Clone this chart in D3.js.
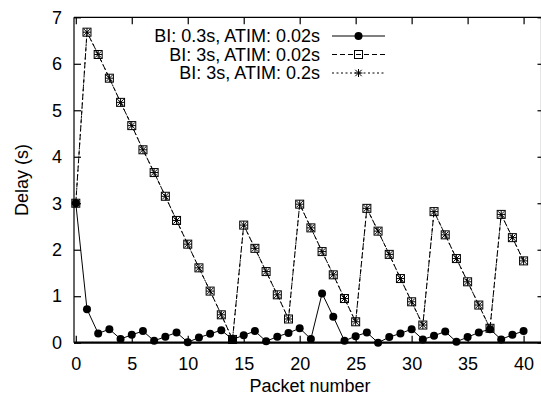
<!DOCTYPE html>
<html>
<head>
<meta charset="utf-8">
<script src="https://cdn.jsdelivr.net/npm/d3@7"></script>
<style>
  html, body { margin: 0; padding: 0; background: #fff; }
  svg text { font-family: "Liberation Sans", Arial, Helvetica, sans-serif; fill: #000; }
</style>
</head>
<body>
<svg id="chart" width="541" height="398"></svg>
<script>
// ---- data ----
const packets = d3.range(0, 41);
const seriesNames = ["BI: 0.3s, ATIM: 0.02s", "BI: 3s, ATIM: 0.02s", "BI: 3s, ATIM: 0.2s"];
const bi03_atim002 = [3.0, 0.72, 0.20, 0.29, 0.08, 0.17, 0.25, 0.04, 0.13, 0.22,
  0.01, 0.11, 0.19, 0.27, 0.07, 0.16, 0.25, 0.03, 0.13, 0.21,
  0.31, 0.08, 1.06, 0.56, 0.04, 0.14, 0.22, 0.0, 0.12, 0.20,
  0.29, 0.07, 0.15, 0.24, 0.02, 0.12, 0.22, 0.29, 0.07, 0.17, 0.25];
const bi3_atim002 = [3.0, 6.68, 6.20, 5.69, 5.17, 4.67, 4.15, 3.66, 3.15, 2.63,
  2.12, 1.61, 1.11, 0.60, 0.07, 2.53, 2.03, 1.53, 1.03, 0.51,
  2.98, 2.47, 1.96, 1.46, 0.95, 0.45, 2.89, 2.40, 1.90, 1.38,
  0.88, 0.38, 2.82, 2.32, 1.81, 1.31, 0.81, 0.31, 2.76, 2.26, 1.76];
const bi3_atim02 = [3.0, 6.68, 6.20, 5.69, 5.17, 4.67, 4.15, 3.66, 3.15, 2.63,
  2.12, 1.61, 1.11, 0.60, 0.07, 2.53, 2.03, 1.53, 1.03, 0.51,
  2.98, 2.47, 1.96, 1.46, 0.95, 0.45, 2.89, 2.40, 1.90, 1.38,
  0.88, 0.38, 2.82, 2.32, 1.81, 1.31, 0.81, 0.31, 2.76, 2.26, 1.76];
const xTicks = [0, 5, 10, 15, 20, 25, 30, 35, 40];
const yTicks = [0, 1, 2, 3, 4, 5, 6, 7];

// ---- layout ----
const svg = d3.select("#chart");
const pL = 74, pR = 541.5, pT = 17.3, pB = 342.7;
const x = d3.scaleLinear().domain([-0.16, 41.6]).range([pL, pR]);
const y = d3.scaleLinear().domain([0, 7]).range([pB, pT]);
const FS = 18;

// frame
const g = svg.append("g");
g.append("line").attr("x1", pL).attr("x2", pR).attr("y1", pT).attr("y2", pT).attr("stroke", "#000").attr("stroke-width", 1.2);
g.append("line").attr("x1", pL).attr("x2", pL).attr("y1", pT).attr("y2", pB).attr("stroke", "#000").attr("stroke-width", 1.2);
g.append("line").attr("x1", pR).attr("x2", pR).attr("y1", pT).attr("y2", pB).attr("stroke", "#000").attr("stroke-width", 1.2);
g.append("line").attr("x1", pL).attr("x2", pR).attr("y1", pB).attr("y2", pB).attr("stroke", "#000").attr("stroke-width", 2.2);

// axes (ticks inward) via d3 axes
const xAxisB = d3.axisBottom(x).tickValues(xTicks).tickSize(-7).tickPadding(14.5).tickFormat(d3.format("d"));
const xAxisT = d3.axisTop(x).tickValues(xTicks).tickSize(-7).tickFormat("");
const yAxisL = d3.axisLeft(y).tickValues(yTicks).tickSize(-7).tickPadding(12).tickFormat(d3.format("d"));
const yAxisR = d3.axisRight(y).tickValues(yTicks).tickSize(-4).tickFormat("");

function styleAxis(sel) {
  sel.select(".domain").remove();
  sel.selectAll(".tick line").attr("stroke", "#000").attr("stroke-width", 1.2);
  sel.selectAll(".tick text").style("font-size", FS + "px").attr("fill", "#000");
}
svg.append("g").attr("transform", `translate(0,${pB})`).call(xAxisB).call(styleAxis);
svg.append("g").attr("transform", `translate(0,${pT})`).call(xAxisT).call(styleAxis);
svg.append("g").attr("transform", `translate(${pL},0)`).call(yAxisL).call(styleAxis);
svg.append("g").attr("transform", `translate(${pR},0)`).call(yAxisR).call(styleAxis);

// axis titles
svg.append("text").attr("x", 310).attr("y", 392).attr("text-anchor", "middle")
  .style("font-size", FS + "px").text("Packet number");
svg.append("text").attr("transform", "translate(28,180) rotate(-90)").attr("text-anchor", "middle")
  .style("font-size", FS + "px").text("Delay (s)");

// ---- markers ----
function drawCircle(sel, cx, cy) {
  sel.append("circle").attr("cx", cx).attr("cy", cy).attr("r", 4).attr("fill", "#000");
}
function drawSquare(sel, cx, cy) {
  sel.append("rect").attr("x", cx - 4).attr("y", cy - 4).attr("width", 8).attr("height", 8)
    .attr("fill", "none").attr("stroke", "#000").attr("stroke-width", 1);
}
function drawStar(sel, cx, cy) {
  const r = 4;
  const p = `M${cx - r},${cy}H${cx + r}M${cx},${cy - r}V${cy + r}M${cx - r * 0.8},${cy - r * 0.8}L${cx + r * 0.8},${cy + r * 0.8}M${cx - r * 0.8},${cy + r * 0.8}L${cx + r * 0.8},${cy - r * 0.8}`;
  sel.append("path").attr("d", p).attr("stroke", "#000").attr("stroke-width", 1).attr("fill", "none");
}

const series = [
  { name: seriesNames[0], values: bi03_atim002, dash: null, marker: drawCircle },
  { name: seriesNames[1], values: bi3_atim002, dash: "5,3", marker: drawSquare },
  { name: seriesNames[2], values: bi3_atim02, dash: "2,2.5", marker: drawStar }
];

const line = d3.line().x((d, i) => x(packets[i])).y(d => y(d));
const plot = svg.append("g");
series.forEach(s => {
  const sg = plot.append("g");
  sg.append("path").datum(s.values).attr("d", line).attr("fill", "none")
    .attr("stroke", "#000").attr("stroke-width", 1)
    .attr("stroke-dasharray", s.dash);
  s.values.forEach((v, i) => s.marker(sg, x(packets[i]), y(v)));
});

// ---- legend ----
const legY = [36, 54.5, 73];
const lg = svg.append("g");
series.forEach((s, i) => {
  lg.append("text").attr("x", 320).attr("y", legY[i] + 6).attr("text-anchor", "end")
    .style("font-size", FS + "px").text(s.name);
  lg.append("line").attr("x1", 332).attr("x2", 385).attr("y1", legY[i]).attr("y2", legY[i])
    .attr("stroke", "#000").attr("stroke-width", 1).attr("stroke-dasharray", s.dash);
  s.marker(lg, 358.5, legY[i]);
});
</script>
</body>
</html>
